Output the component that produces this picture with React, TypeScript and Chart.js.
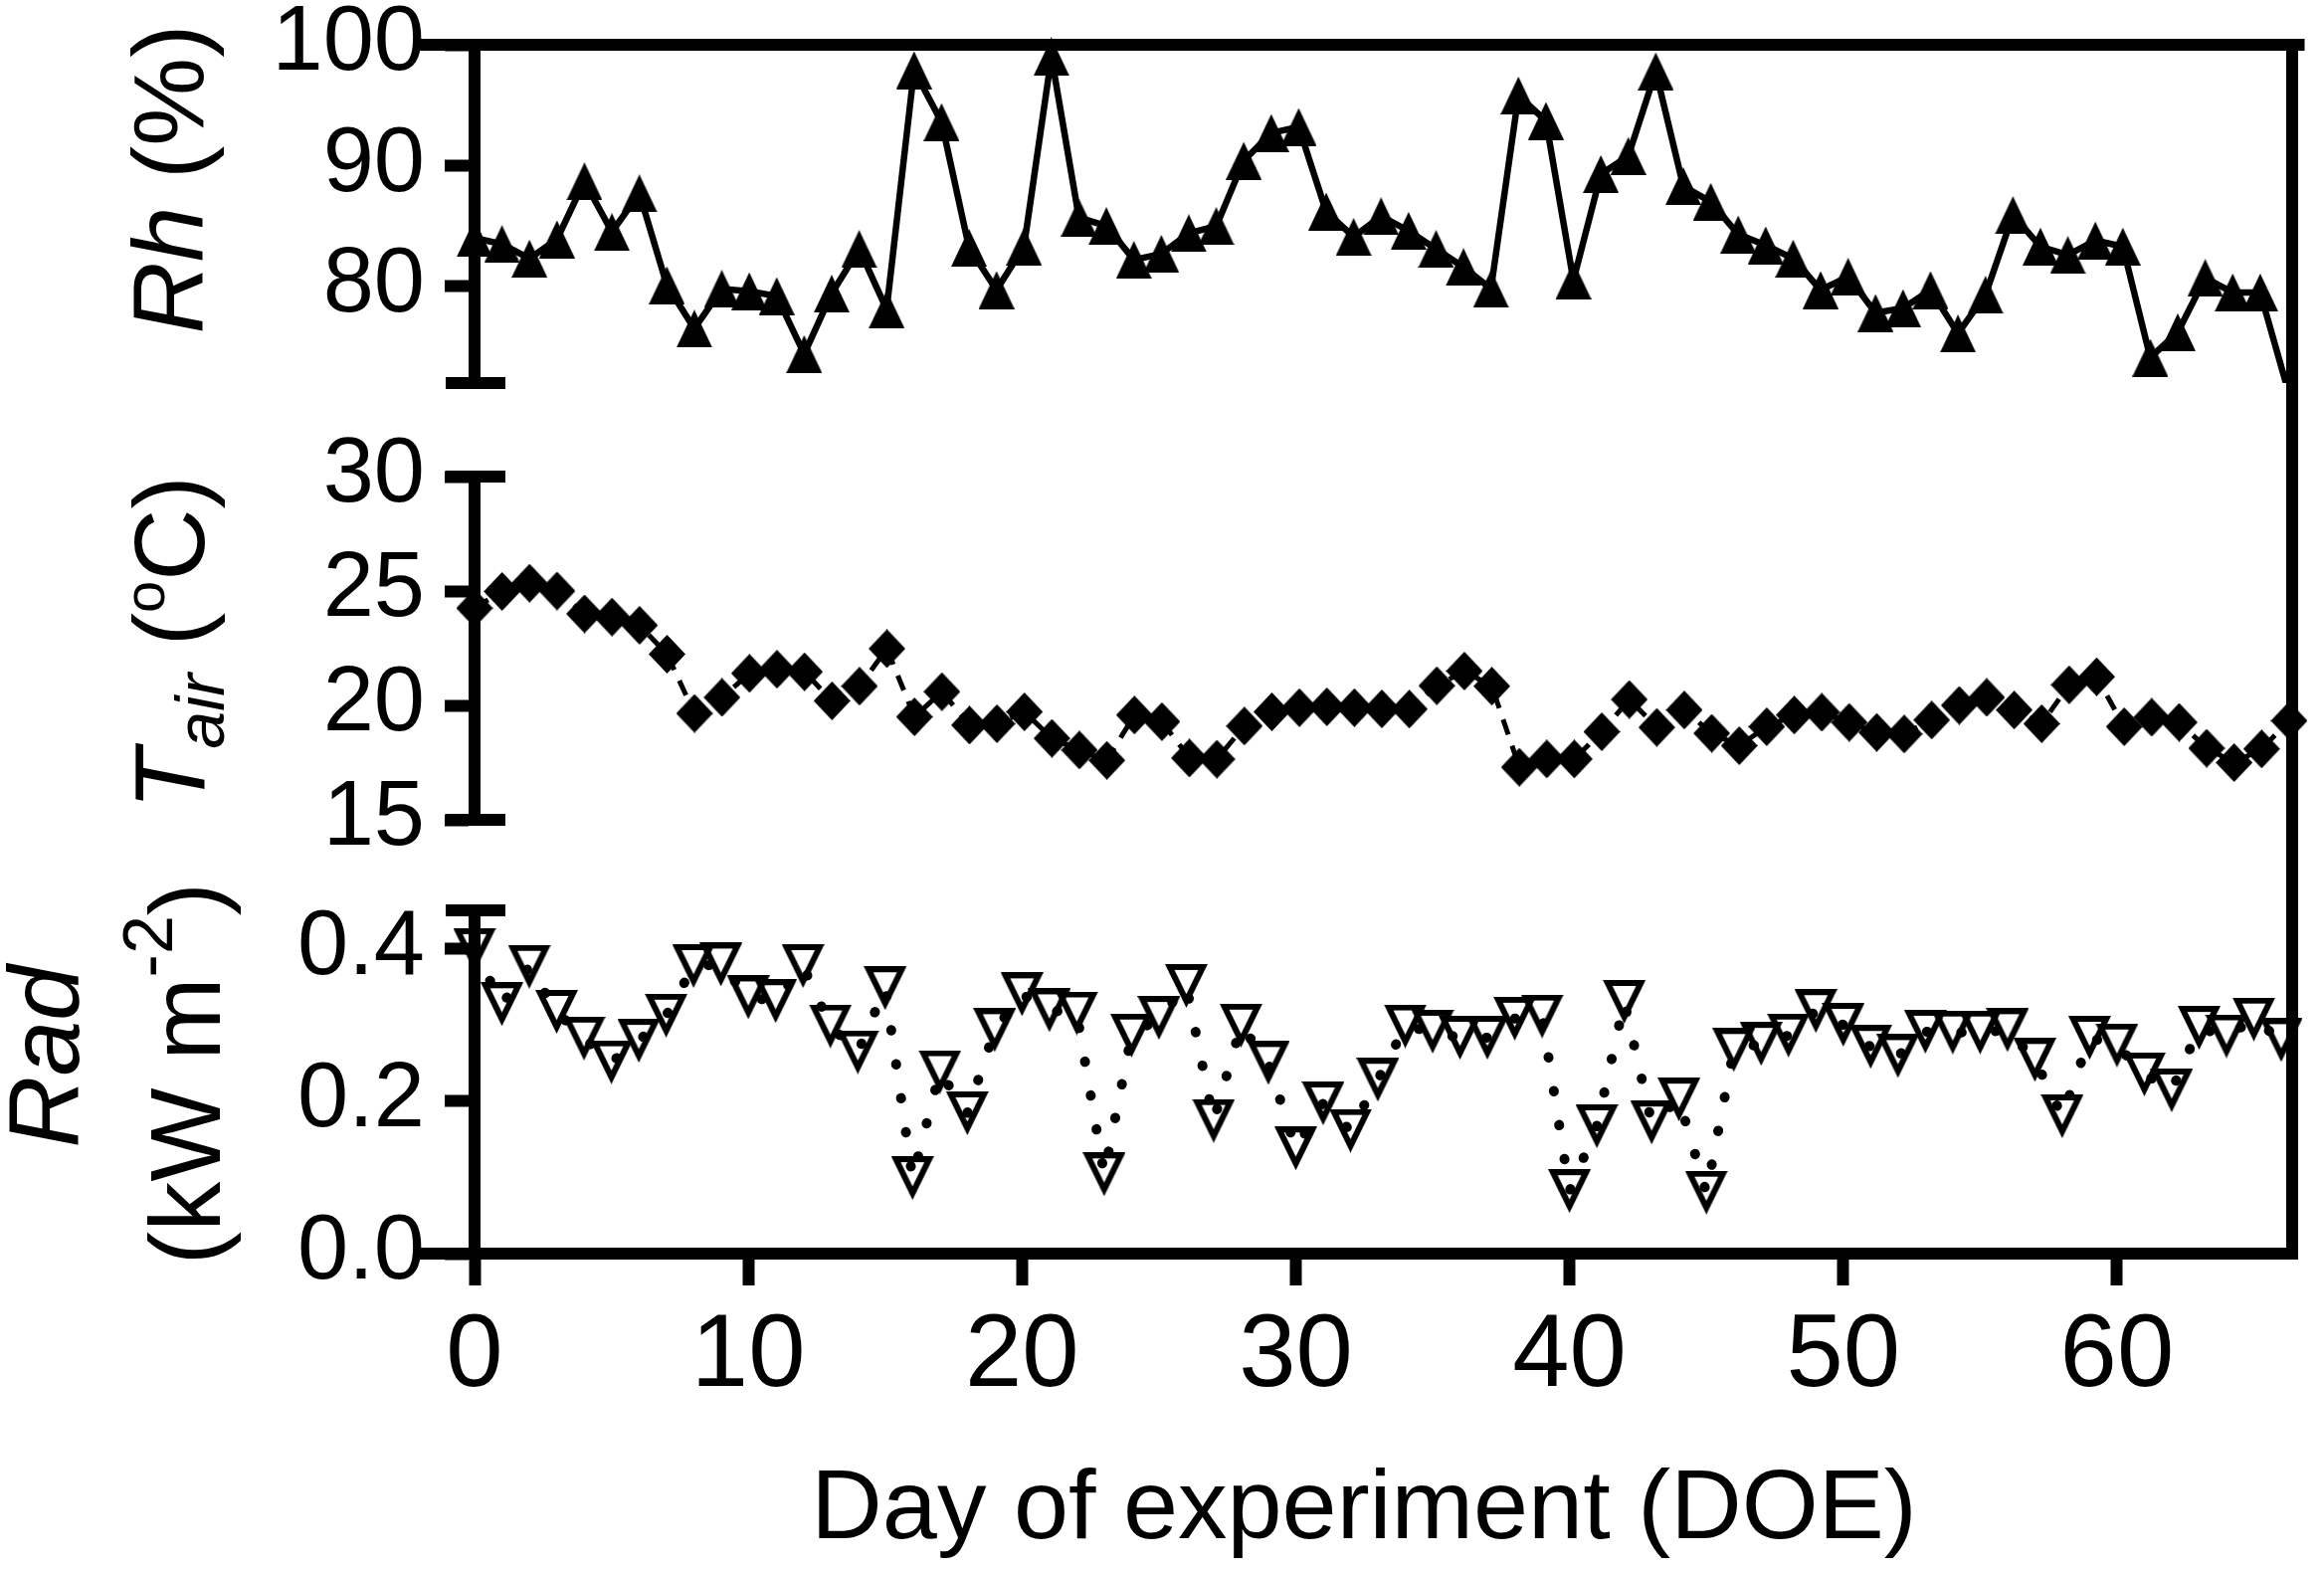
import { useEffect, useRef, type ReactNode } from "react"
import { Chart, registerables, type ChartConfiguration, type Plugin } from "chart.js"

Chart.register(...registerables)

// Day of experiment
const DOE = [
  0, 1, 2, 3, 4, 5, 6, 7, 8, 9, 10, 11, 12, 13, 14, 15, 16, 17, 18, 19, 20, 21, 22, 23, 24, 25, 26, 27, 28, 29, 30, 31, 32,
  33, 34, 35, 36, 37, 38, 39, 40, 41, 42, 43, 44, 45, 46, 47, 48, 49, 50, 51, 52, 53, 54, 55, 56, 57, 58, 59, 60, 61, 62,
  63, 64, 65, 66,
]

// Relative humidity (%)
const RH = [
  84.0, 83.5, 82.3, 83.9, 88.7, 84.5, 87.7, 80.1, 76.5, 79.8, 79.6, 79.2, 74.4, 79.4, 83.1, 78.1, 97.9, 93.6, 83.2, 79.7,
  83.3, 99.0, 85.7, 85.0, 82.2, 82.7, 84.4, 85.0, 90.4, 92.7, 93.2, 86.2, 84.1, 85.8, 84.6, 83.1, 81.6, 79.8, 95.8, 93.7,
  80.5, 89.3, 90.8, 97.8, 88.3, 87.0, 84.3, 83.4, 82.3, 79.7, 80.8, 77.8, 78.2, 79.7, 76.1, 79.3, 85.9, 83.3, 82.6, 83.8,
  83.3, 74.1, 76.2, 80.7, 79.5, 79.5, 71.5,
]

// Air temperature (oC)
const TAIR = [
  24.25, 24.98, 25.34, 25.0, 24.0, 23.86, 23.5, 22.24, 19.65, 20.35, 21.4, 21.58, 21.47, 20.2, 20.84, 22.48, 19.5, 20.6,
  19.14, 19.2, 19.72, 18.56, 18.05, 17.6, 19.58, 19.29, 17.7, 17.65, 19.1, 19.72, 19.9, 19.94, 19.9, 19.85, 19.84, 20.86,
  21.5, 20.84, 17.3, 17.66, 17.66, 18.85, 20.26, 19.04, 19.8, 18.78, 18.24, 19.07, 19.58, 19.7, 19.26, 18.82, 18.75,
  19.36, 20.0, 20.35, 19.8, 19.2, 20.9, 21.25, 19.07, 19.48, 19.26, 18.13, 17.5, 18.1, 19.33,
]

// Radiation (kW m-2)
const RAD = [
  0.398, 0.327, 0.376, 0.317, 0.282, 0.251, 0.279, 0.312, 0.377, 0.379, 0.336, 0.331, 0.377, 0.298, 0.264, 0.348, 0.099,
  0.238, 0.184, 0.293, 0.34, 0.319, 0.315, 0.104, 0.286, 0.309, 0.351, 0.174, 0.299, 0.25, 0.138, 0.197, 0.161, 0.228,
  0.298, 0.291, 0.283, 0.283, 0.308, 0.311, 0.082, 0.167, 0.33, 0.172, 0.202, 0.08, 0.267, 0.275, 0.286, 0.318, 0.3,
  0.271, 0.259, 0.291, 0.29, 0.29, 0.293, 0.254, 0.18, 0.283, 0.273, 0.235, 0.214, 0.296, 0.285, 0.307, 0.28,
]

const X_TICKS = [0, 10, 20, 30, 40, 50, 60]
const RH_TICKS = [80, 90, 100]
const TAIR_TICKS = [15, 20, 25, 30]
const RAD_TICKS = [0, 0.2, 0.4]

const X_MAX = 66.4
const RH_MIN = 72
const RH_MAX = 100
const TAIR_MIN = 15
const TAIR_MAX = 30
const RAD_MIN = 0
const RAD_MAX = 0.45

const FONT = "Arial, 'Liberation Sans', sans-serif"
const WIDTH = 2336
const HEIGHT = 1577
const AXIS_LEFT = 477 // y axis line
const PAD_RIGHT = 16
const LW = 12 // axis / frame line width
const FRAME_TOP = 45 // page y of the Rh = 100 line

// frame lines and end caps that Chart.js does not draw by itself
const framePlugin: Plugin<"line"> = {
  id: "panelFrame",
  afterDraw(chart, _args, opts: any) {
    const { ctx, chartArea: a } = chart
    const h = LW / 2
    ctx.save()
    ctx.fillStyle = "#000"
    if (opts.rightBorder) ctx.fillRect(a.right - h, FRAME_TOP - h, LW, a.bottom + h - (FRAME_TOP - h))
    if (opts.topLine) ctx.fillRect(415, a.top - h, a.right + h - 415, LW)
    if (opts.bottomExt) ctx.fillRect(417, a.bottom - h, a.left - 417, LW)
    if (opts.capTop) ctx.fillRect(448, a.top - h, 60, LW)
    if (opts.capBottom) ctx.fillRect(448, a.bottom - h, 60, LW)
    ctx.restore()
  },
}

function marker(w: number, h: number, outer: number[][], inner?: number[][]) {
  const c = document.createElement("canvas")
  c.width = w
  c.height = h
  const ctx = c.getContext("2d")!
  const poly = (pts: number[][]) => {
    ctx.beginPath()
    pts.forEach(([x, y], i) => (i ? ctx.lineTo(x, y) : ctx.moveTo(x, y)))
    ctx.closePath()
    ctx.fill()
  }
  ctx.fillStyle = "#000"
  poly(outer)
  if (inner) {
    ctx.globalCompositeOperation = "destination-out"
    poly(inner)
  }
  return c
}

// hollow, point-down triangle with stroke t
function openDownTriangle(w: number, h: number, t: number) {
  const L = Math.hypot(w / 2, h)
  const sTop = (t * (1 + w / 2 / L)) / h
  const xTop = (sTop * w) / 2 + (t * h) / L
  const sBot = 1 - (2 * t * h) / (L * w)
  const yBot = sBot * h - (t * w) / 2 / L
  return marker(w, h, [[0, 0], [w, 0], [w / 2, h]], [[xTop, t], [w - xTop, t], [w / 2, yBot]])
}

function yAxis(min: number, max: number, ticks: number[], fmt: (v: number) => string): any {
  return {
    type: "linear",
    min,
    max,
    afterBuildTicks: (s: any) => {
      s.ticks = ticks.map((v) => ({ value: v }))
    },
    afterFit: (s: any) => {
      s.width = AXIS_LEFT
      s.paddingTop = 0
      s.paddingBottom = 0
    },
    border: { display: true, color: "#000", width: LW },
    grid: { drawOnChartArea: false, drawTicks: true, tickLength: 30, tickWidth: LW, tickColor: "#000", color: "#000" },
    ticks: { color: "#000", padding: 20, autoSkip: false, font: { family: FONT, size: 92 }, callback: (v: any) => fmt(Number(v)) },
  }
}

const hiddenX: any = { type: "linear", min: 0, max: X_MAX, display: false }

function baseOptions(padTop: number, padBottom: number, frame: object): any {
  return {
    animation: false,
    responsive: false,
    devicePixelRatio: 1,
    events: [],
    layout: { padding: { top: padTop, bottom: padBottom, left: 0, right: PAD_RIGHT } },
    plugins: { legend: { display: false }, tooltip: { enabled: false }, panelFrame: frame },
  }
}

function RotatedLabel({ cx, cy, children }: { cx: number; cy: number; children: ReactNode }) {
  const w = 700
  const size = 100
  return (
    <div
      style={{
        position: "absolute",
        left: cx - w / 2,
        top: cy - size / 2,
        width: w,
        height: size,
        fontSize: size,
        lineHeight: `${size}px`,
        textAlign: "center",
        whiteSpace: "nowrap",
        transform: "rotate(-90deg)",
      }}
    >
      {children}
    </div>
  )
}

export default function App() {
  const rhRef = useRef<HTMLCanvasElement>(null)
  const tairRef = useRef<HTMLCanvasElement>(null)
  const radRef = useRef<HTMLCanvasElement>(null)

  useEffect(() => {
    if (!rhRef.current || !tairRef.current || !radRef.current) return

    const upTri = marker(36, 38, [[18, 0], [36, 38], [0, 38]])
    const diamond = marker(37, 39, [[18.5, 0], [37, 19.5], [18.5, 39], [0, 19.5]])
    const downTriOpen = openDownTriangle(43, 44, 6)

    // every panel has its own full-size canvas; chart areas are placed with the layout padding
    const rhConfig: ChartConfiguration<"line"> = {
      type: "line",
      data: {
        datasets: [
          {
            data: DOE.map((d, i) => ({ x: d, y: RH[i] })),
            borderColor: "#000",
            borderWidth: 6.5,
            tension: 0,
            pointRadius: 19,
            pointStyle: ((c: any) => (c.raw.y < RH_MIN ? false : upTri)) as any,
            clip: { left: 30, top: 30, right: 30, bottom: 0 } as any,
          },
        ],
      },
      options: {
        ...baseOptions(FRAME_TOP, HEIGHT - 385, { topLine: true, capBottom: true }),
        scales: { x: hiddenX, y: yAxis(RH_MIN, RH_MAX, RH_TICKS, (v) => String(v)) },
      },
      plugins: [framePlugin],
    }

    const tairConfig: ChartConfiguration<"line"> = {
      type: "line",
      data: {
        datasets: [
          {
            data: DOE.map((d, i) => ({ x: d, y: TAIR[i] })),
            borderColor: "#000",
            borderWidth: 5,
            borderDash: [16, 12],
            tension: 0,
            pointRadius: 19,
            pointStyle: diamond as any,
            clip: 30 as any,
          },
        ],
      },
      options: {
        ...baseOptions(479, HEIGHT - 824, { capTop: true, capBottom: true }),
        scales: { x: hiddenX, y: yAxis(TAIR_MIN, TAIR_MAX, TAIR_TICKS, (v) => String(v)) },
      },
      plugins: [framePlugin],
    }

    const radConfig: ChartConfiguration<"line"> = {
      type: "line",
      data: {
        datasets: [
          {
            data: DOE.map((d, i) => ({ x: d, y: RAD[i] })),
            borderColor: "#000",
            borderWidth: 10,
            borderDash: [0.5, 34],
            borderCapStyle: "round",
            tension: 0,
            pointRadius: 22,
            pointStyle: downTriOpen as any,
            clip: 30 as any,
          },
        ],
      },
      options: {
        ...baseOptions(915, 0, { capTop: true, bottomExt: true, rightBorder: true }),
        scales: {
          x: {
            type: "linear",
            min: 0,
            max: X_MAX,
            afterBuildTicks: (s: any) => {
              s.ticks = X_TICKS.map((v) => ({ value: v }))
            },
            afterFit: (s: any) => {
              s.height = HEIGHT - 1260
              s.paddingLeft = 0
              s.paddingRight = 0
            },
            border: { display: true, color: "#000", width: LW },
            grid: { drawOnChartArea: false, drawTicks: true, tickLength: 32, tickWidth: LW, tickColor: "#000", color: "#000" },
            ticks: { color: "#000", padding: 11, maxRotation: 0, autoSkip: false, font: { family: FONT, size: 103 } },
          } as any,
          y: yAxis(RAD_MIN, RAD_MAX, RAD_TICKS, (v) => v.toFixed(1)),
        },
      },
      plugins: [framePlugin],
    }

    const charts = [
      new Chart(rhRef.current, rhConfig),
      new Chart(tairRef.current, tairConfig),
      new Chart(radRef.current, radConfig),
    ]

    return () => {
      charts.forEach((c) => c.destroy())
    }
  }, [])

  const sub = { fontSize: 68, verticalAlign: -20, lineHeight: 0 }
  const supO = { fontSize: 58, verticalAlign: 40, lineHeight: 0 }
  const sup2 = { fontSize: 70, verticalAlign: 48, lineHeight: 0 }
  const canvasStyle = { position: "absolute" as const, left: 0, top: 0 }

  return (
    <div
      style={{
        position: "absolute",
        left: 0,
        top: 0,
        width: WIDTH,
        height: HEIGHT,
        background: "#fff",
        color: "#000",
        fontFamily: FONT,
        overflow: "hidden",
      }}
    >
      <canvas ref={rhRef} width={WIDTH} height={HEIGHT} style={canvasStyle} />
      <canvas ref={tairRef} width={WIDTH} height={HEIGHT} style={canvasStyle} />
      <canvas ref={radRef} width={WIDTH} height={HEIGHT} style={canvasStyle} />

      <RotatedLabel cx={168.5} cy={180}>
        <i>Rh</i> (%)
      </RotatedLabel>
      <RotatedLabel cx={170} cy={646}>
        <i>T</i>
        <i style={sub}>air</i> (<span style={supO}>o</span>C)
      </RotatedLabel>
      <RotatedLabel cx={43.5} cy={1062}>
        <i>Rad</i>
      </RotatedLabel>
      <RotatedLabel cx={185.5} cy={1079}>
        (kW m<span style={sup2}>-2</span>)
      </RotatedLabel>

      <div
        style={{
          position: "absolute",
          left: 1371 - 800,
          top: 1462,
          width: 1600,
          fontSize: 99,
          lineHeight: "99px",
          textAlign: "center",
          whiteSpace: "nowrap",
        }}
      >
        Day of experiment (DOE)
      </div>
    </div>
  )
}
